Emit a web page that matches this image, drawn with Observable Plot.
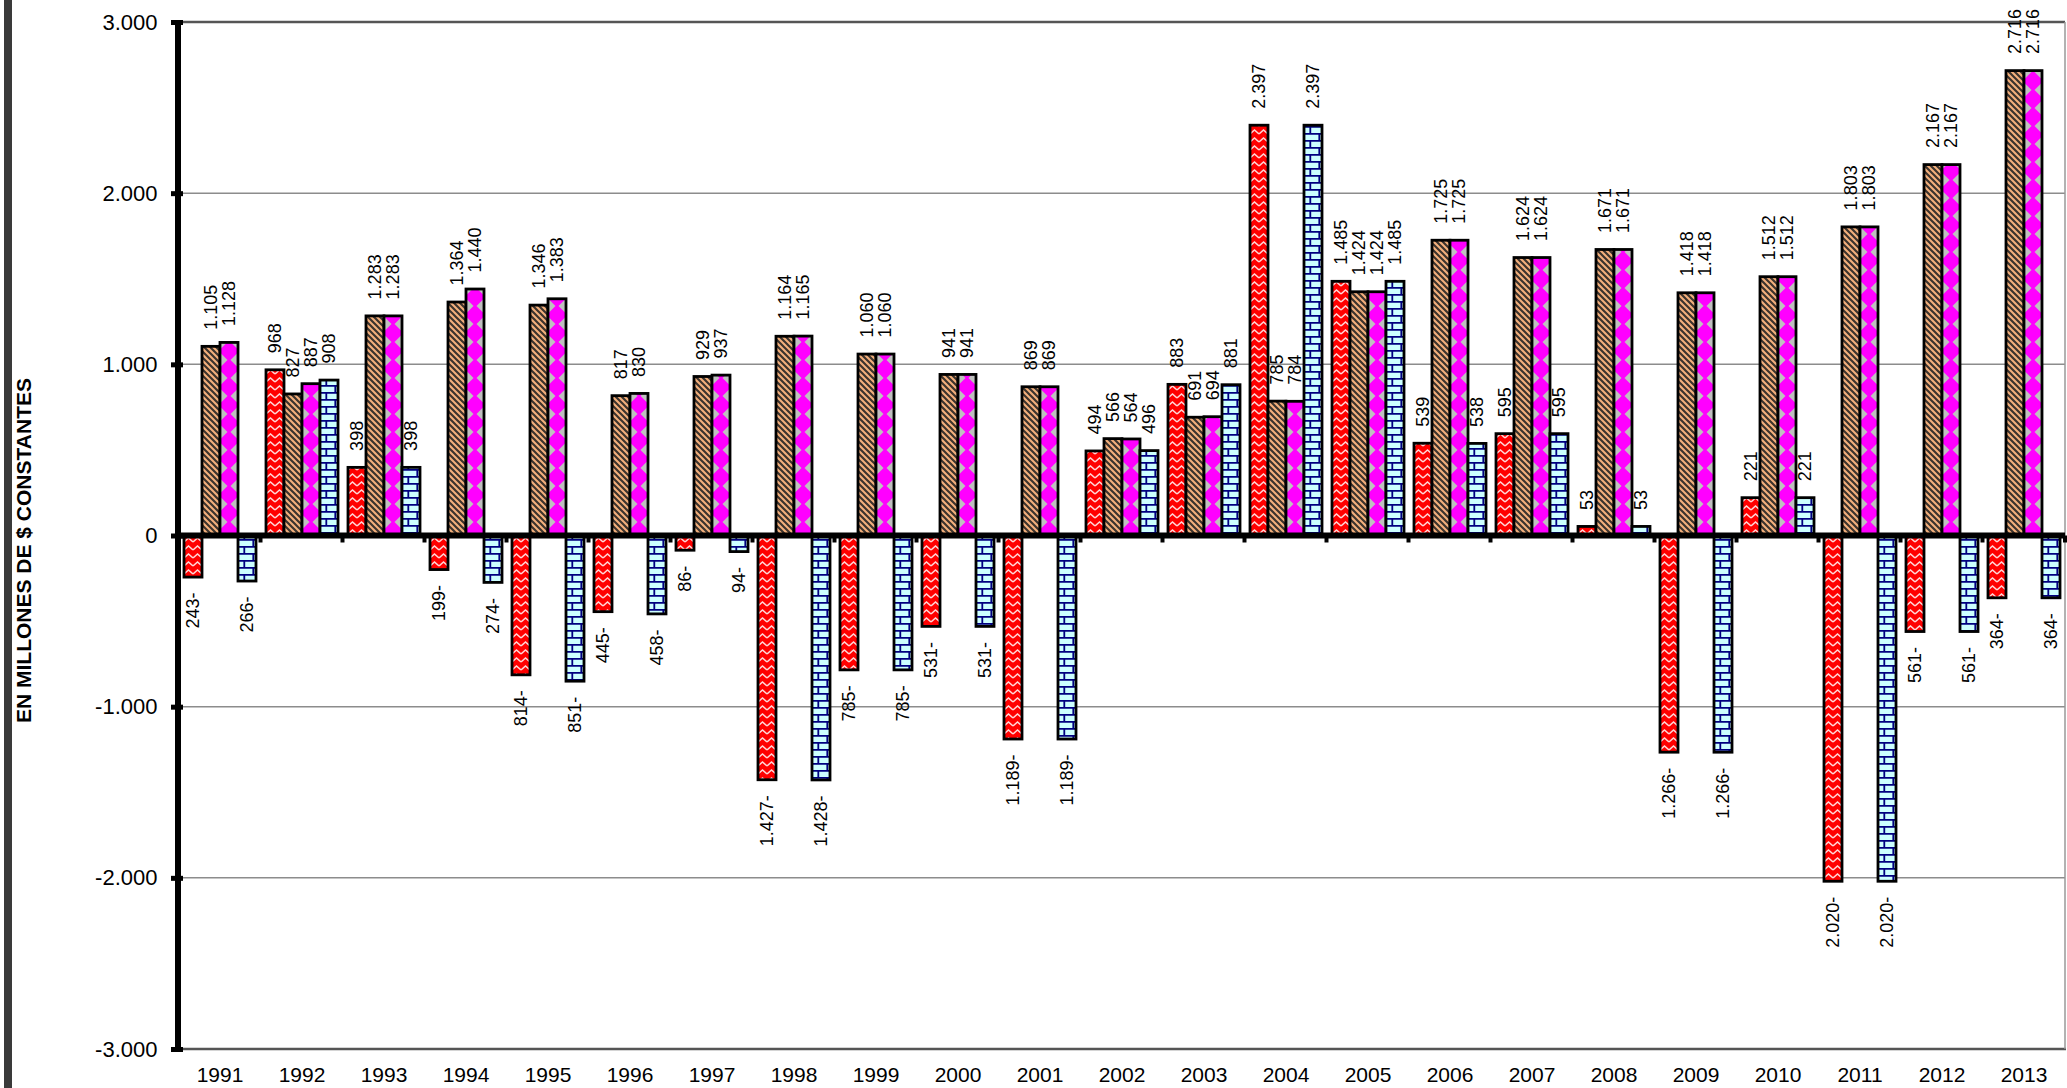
<!DOCTYPE html>
<html><head><meta charset="utf-8">
<script src="https://cdn.jsdelivr.net/npm/d3@7"></script>
<script src="https://cdn.jsdelivr.net/npm/@observablehq/plot@0.6"></script>
<style>
html,body{margin:0;padding:0;background:#fff;}
#wrap{position:relative;width:2067px;height:1088px;overflow:hidden;background:#fff;}
#leftbar{position:absolute;left:4px;top:0;width:8px;height:1088px;background:#3a3a3a;}
#chart{position:absolute;left:0;top:0;}
#chart svg{overflow:visible;}
#chart g[aria-label="y-axis tick"]{stroke-width:5px;}
#chart g[aria-label="y-axis tick label"]{font-size:22px;}
</style></head><body>
<div id="wrap"><div id="leftbar"></div><div id="chart"></div></div>
<script>
// ---- data ----
const years = ["1991","1992","1993","1994","1995","1996","1997","1998","1999","2000","2001","2002","2003","2004","2005","2006","2007","2008","2009","2010","2011","2012","2013"];
const seriesNames = ["Serie 1","Serie 2","Serie 3","Serie 4"];
const serie1 = [-243, 968, 398, -199, -814, -445, -86, -1427, -785, -531, -1189, 494, 883, 2397, 1485, 539, 595, 53, -1266, 221, -2020, -561, -364];
const serie2 = [1105, 827, 1283, 1364, 1346, 817, 929, 1164, 1060, 941, 869, 566, 691, 785, 1424, 1725, 1624, 1671, 1418, 1512, 1803, 2167, 2716];
const serie3 = [1128, 887, 1283, 1440, 1383, 830, 937, 1165, 1060, 941, 869, 564, 694, 784, 1424, 1725, 1624, 1671, 1418, 1512, 1803, 2167, 2716];
const serie4 = [-266, 908, 398, -274, -851, -458, -94, -1428, -785, -531, -1189, 496, 881, 2397, 1485, 538, 595, 53, -1266, 221, -2020, -561, -364];
const yTicks = [-3000, -2000, -1000, 0, 1000, 2000, 3000];
const yTitle = "EN MILLONES DE $ CONSTANTES";

const allSeries = [serie1, serie2, serie3, serie4];
const patternIds = ["pRed", "pBrown", "pMagenta", "pBlue"];
const rows = years.flatMap((yr, i) => seriesNames.map((s, j) => ({year: yr, series: s, value: allSeries[j][i]})));

const loc = d3.formatLocale({decimal: ",", thousands: ".", grouping: [3], currency: ["$", ""], minus: "-"});
const fmt = loc.format(",d");
const labelText = v => v < 0 ? fmt(Math.abs(v)) + "-" : fmt(v);

const barMarks = seriesNames.map((s, j) =>
  Plot.barY(rows.filter(d => d.series === s), {
    fx: "year", x: "series", y: "value",
    fill: `url(#${patternIds[j]})`, stroke: "black", strokeWidth: 2.8
  })
);

const chart = Plot.plot({
  width: 2067, height: 1088,
  marginLeft: 182, marginRight: 5, marginTop: 22, marginBottom: 39,
  style: {fontFamily: "'Liberation Sans', Arial, sans-serif", fontSize: "21px", color: "black", background: "transparent"},
  fx: {domain: years, paddingInner: 0.105, paddingOuter: 0, label: null, axis: "bottom", tickSize: 0, tickPadding: 18},
  x: {domain: seriesNames, padding: 0, axis: null},
  y: {domain: [-3000, 3000], ticks: yTicks, tickFormat: d => fmt(d), tickSize: 12, tickPadding: 14, label: null},
  marks: [
    ...barMarks,
    Plot.text(rows.filter(d => d.value >= 0), {
      fx: "year", x: "series", y: "value", text: d => labelText(d.value),
      rotate: -90, textAnchor: "start", dy: -17, fontSize: 18, fill: "black"
    }),
    Plot.text(rows.filter(d => d.value < 0), {
      fx: "year", x: "series", y: "value", text: d => labelText(d.value),
      rotate: -90, textAnchor: "end", dy: 15, fontSize: 18, fill: "black"
    })
  ]
});
document.getElementById("chart").appendChild(chart);

// ---- frame, grid, patterns using the plot's scales ----
const svg = d3.select(chart);
const ys = chart.scale("y"), xs = chart.scale("x"), fxs = chart.scale("fx");
const L = 178, R = 2065;
const under = svg.insert("g", ":first-child");
[-2000, -1000, 1000, 2000].forEach(v => {
  under.append("line").attr("x1", L).attr("x2", R).attr("y1", ys.apply(v)).attr("y2", ys.apply(v))
    .attr("stroke", "#8c8c8c").attr("stroke-width", 1.5);
});
under.append("line").attr("x1", L).attr("x2", R).attr("y1", ys.apply(3000)).attr("y2", ys.apply(3000))
  .attr("stroke", "#555").attr("stroke-width", 2.5);
under.append("line").attr("x1", L).attr("x2", R + 1).attr("y1", ys.apply(-3000)).attr("y2", ys.apply(-3000))
  .attr("stroke", "#555").attr("stroke-width", 2.5);
under.append("line").attr("x1", R).attr("x2", R).attr("y1", ys.apply(3000)).attr("y2", ys.apply(-3000))
  .attr("stroke", "#999").attr("stroke-width", 1.5);

const over = svg.append("g");
const y0 = ys.apply(0);
// category boundary ticks on the zero line
const bw = fxs.bandwidth;
const bounds = [L];
for (let i = 1; i < years.length; i++) bounds.push((fxs.apply(years[i - 1]) + bw + fxs.apply(years[i])) / 2);
bounds.push(R);
bounds.forEach(b => over.append("line").attr("x1", b).attr("x2", b).attr("y1", y0).attr("y2", y0 + 7)
  .attr("stroke", "black").attr("stroke-width", 4));
over.append("line").attr("x1", L).attr("x2", R).attr("y1", y0).attr("y2", y0)
  .attr("stroke", "black").attr("stroke-width", 6);
over.append("line").attr("x1", L).attr("x2", L).attr("y1", ys.apply(3000) - 2).attr("y2", ys.apply(-3000) + 1)
  .attr("stroke", "black").attr("stroke-width", 6);
over.append("text").attr("transform", `translate(24,${(ys.apply(3000) + ys.apply(-3000)) / 2 + 15}) rotate(-90)`)
  .attr("text-anchor", "middle").attr("dy", "0.35em").attr("font-weight", "bold").attr("font-size", "21px")
  .attr("font-family", "'Liberation Sans', Arial, sans-serif").attr("fill", "black").text(yTitle);

const w = xs.bandwidth, x0 = xs.apply(seriesNames[0]);
const defs = svg.insert("defs", ":first-child");
function pat(id, x, wd, ht) {
  return defs.append("pattern").attr("id", id).attr("patternUnits", "userSpaceOnUse")
    .attr("x", x).attr("y", 0).attr("width", wd).attr("height", ht);
}
// red zigzag
let p = pat("pRed", x0, w / 2, 8);
p.append("rect").attr("width", w / 2).attr("height", 8).attr("fill", "#ff0000");
p.append("path").attr("d", `M0,6 L${w / 4},2 L${w / 2},6`).attr("fill", "none").attr("stroke", "#ffd6d6").attr("stroke-width", 1.6);
// brown diagonal stripes
p = pat("pBrown", 0, 6, 6);
p.append("rect").attr("width", 6).attr("height", 6).attr("fill", "#f4b07c");
p.append("path").attr("d", "M-1,-1 L7,7 M5,-1 L7,1 M-1,5 L1,7").attr("stroke", "#3b332d").attr("stroke-width", 2.2);
// magenta diamonds on gray
p = pat("pMagenta", x0, w, w);
p.append("rect").attr("width", w).attr("height", w).attr("fill", "#c0c0c0");
p.append("polygon").attr("points", `${w / 2},-1.5 ${w + 1.5},${w / 2} ${w / 2},${w + 1.5} -1.5,${w / 2}`).attr("fill", "#ff00ff");
// blue bricks
p = pat("pBlue", x0, w, 14);
p.append("rect").attr("width", w).attr("height", 14).attr("fill", "#ccffff");
p.append("path").attr("d", `M0,0.9 H${w} M0,7.9 H${w} M${0.35 * w},0 V7 M${0.85 * w},7 V14`)
  .attr("stroke", "#000080").attr("stroke-width", 1.8).attr("fill", "none");
</script>
</body></html>
